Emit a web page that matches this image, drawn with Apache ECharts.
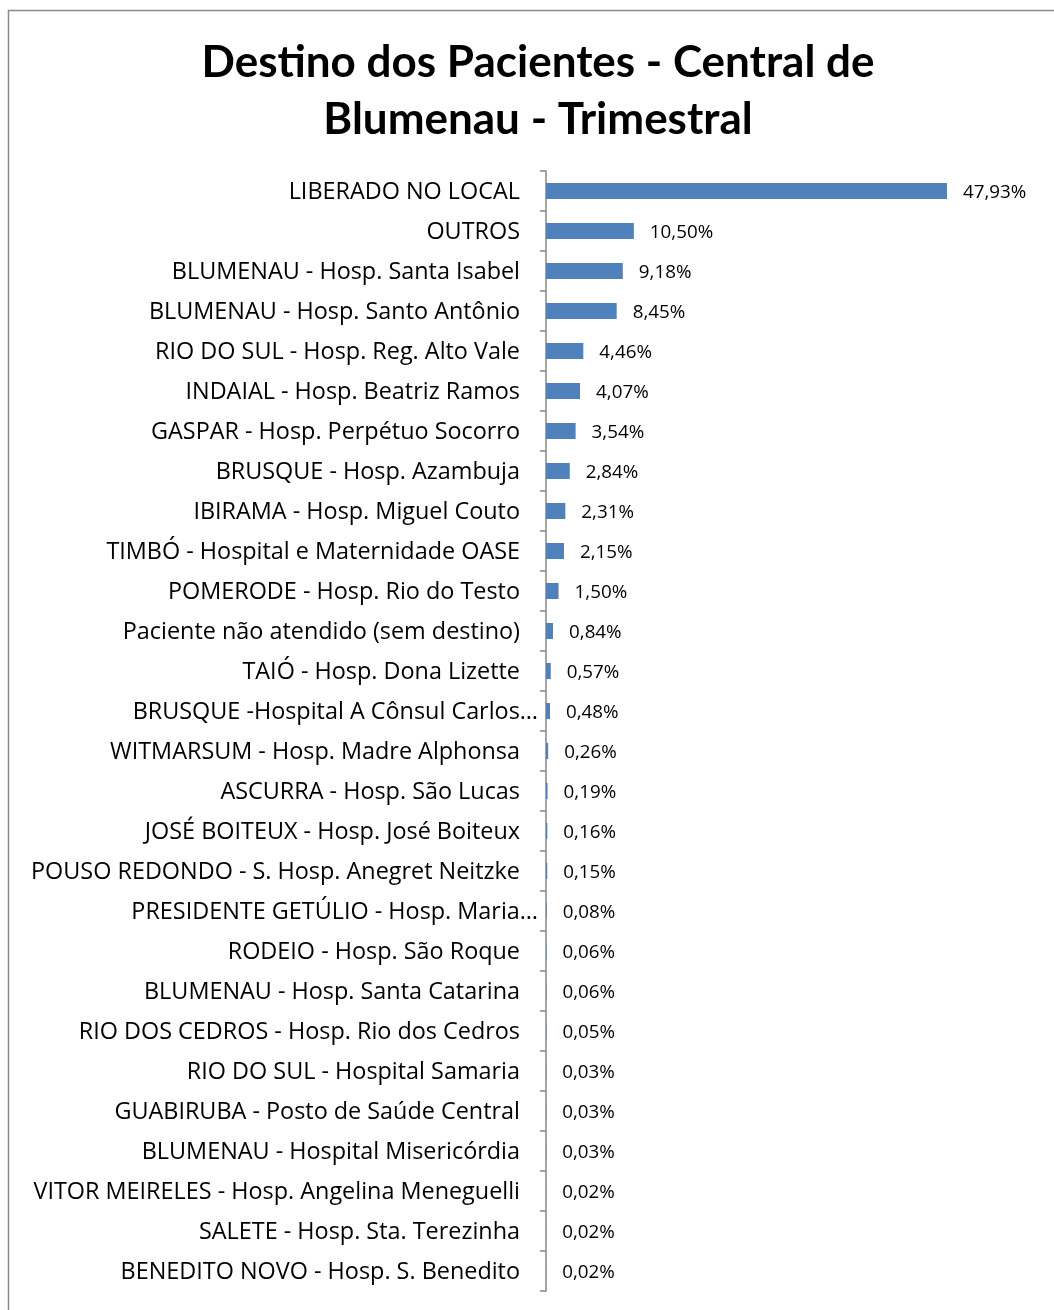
<!DOCTYPE html>
<html><head><meta charset="utf-8">
<script src="https://cdn.jsdelivr.net/npm/echarts@6/dist/echarts.min.js"></script>
<style>html,body{margin:0;padding:0;background:#fff}#c{width:1054px;height:1310px}</style>
</head><body><div id="c"></div>
<script>
const categories = [
  "LIBERADO NO LOCAL",
  "OUTROS",
  "BLUMENAU - Hosp. Santa Isabel",
  "BLUMENAU - Hosp. Santo Antônio",
  "RIO DO SUL - Hosp. Reg. Alto Vale",
  "INDAIAL - Hosp. Beatriz Ramos",
  "GASPAR - Hosp. Perpétuo Socorro",
  "BRUSQUE - Hosp. Azambuja",
  "IBIRAMA - Hosp. Miguel Couto",
  "TIMBÓ - Hospital e Maternidade OASE",
  "POMERODE - Hosp. Rio do Testo",
  "Paciente não atendido (sem destino)",
  "TAIÓ - Hosp. Dona Lizette",
  "BRUSQUE -Hospital A Cônsul Carlos…",
  "WITMARSUM - Hosp. Madre Alphonsa",
  "ASCURRA - Hosp. São Lucas",
  "JOSÉ BOITEUX - Hosp. José Boiteux",
  "POUSO REDONDO - S. Hosp. Anegret Neitzke",
  "PRESIDENTE GETÚLIO - Hosp. Maria…",
  "RODEIO - Hosp. São Roque",
  "BLUMENAU - Hosp. Santa Catarina",
  "RIO DOS CEDROS - Hosp. Rio dos Cedros",
  "RIO DO SUL - Hospital Samaria",
  "GUABIRUBA - Posto de Saúde Central",
  "BLUMENAU - Hospital Misericórdia",
  "VITOR MEIRELES - Hosp. Angelina Meneguelli",
  "SALETE - Hosp. Sta. Terezinha",
  "BENEDITO NOVO - Hosp. S. Benedito"
];
const values = [47.93, 10.50, 9.18, 8.45, 4.46, 4.07, 3.54, 2.84, 2.31, 2.15, 1.50, 0.84, 0.57, 0.48, 0.26, 0.19, 0.16, 0.15, 0.08, 0.06, 0.06, 0.05, 0.03, 0.03, 0.03, 0.02, 0.02, 0.02];

const chart = echarts.init(document.getElementById('c'));
const LFONT = '"Open Sans", Lato, sans-serif';
chart.setOption({
  animation: false,
  backgroundColor: '#fff',
  title: {
    text: 'Destino dos Pacientes - Central de\nBlumenau - Trimestral',
    left: 533, top: 29, textAlign: 'center',
    textStyle: { fontFamily: 'Lato, "Open Sans", sans-serif', fontWeight: 'bold', fontSize: 44, lineHeight: 57, color: '#000' }
  },
  graphic: [{ type: 'rect', shape: { x: 8.5, y: 10.5, width: 1100, height: 1400 }, style: { fill: 'none', stroke: '#8a8a8a', lineWidth: 1.5 }, silent: true }],
  grid: { left: 546, top: 171, width: 502, bottom: 19 },
  xAxis: { type: 'value', min: 0, max: 60, show: false },
  yAxis: {
    type: 'category', data: categories, inverse: true,
    axisLine: { show: true, lineStyle: { color: '#868686', width: 1.5 } },
    axisTick: { show: true, length: 6, lineStyle: { color: '#868686', width: 1.5 } },
    axisLabel: {
      margin: 8, color: '#000',
      formatter: function (v) { return v.endsWith('…') ? '{t|' + v + '}' : '{n|' + v + '}'; },
      rich: {
        n: { fontFamily: LFONT, fontSize: 23.4, color: '#000', padding: [2, 18, 0, 0] },
        t: { fontFamily: LFONT, fontSize: 23.4, color: '#000', padding: [2, 0, 0, 0] }
      }
    }
  },
  series: [{
    type: 'bar', data: values, barWidth: 16,
    itemStyle: { color: '#4F81BD' },
    label: {
      show: true, position: 'right', distance: 16, color: '#000', offset: [0, 1.5],
      fontFamily: LFONT, fontSize: 18.8,
      formatter: function (p) { return p.value.toFixed(2).replace('.', ',') + '%'; }
    }
  }]
});
</script></body></html>
